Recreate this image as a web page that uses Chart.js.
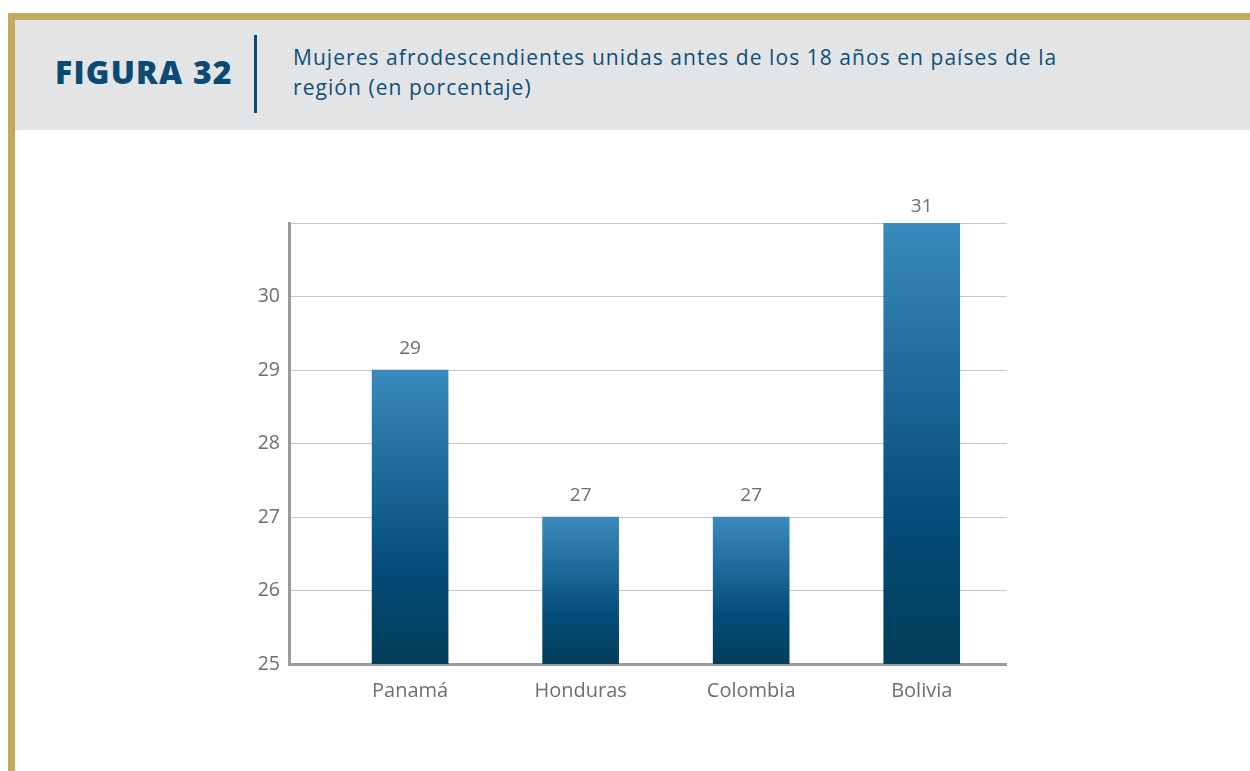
<!DOCTYPE html>
<html>
<head>
<meta charset="utf-8">
<script src="https://cdn.jsdelivr.net/npm/chart.js@4"></script>
<style>
    html, body { margin: 0; padding: 0; background: #fff; }
    body { width: 1250px; height: 771px; position: relative; overflow: hidden; font-family: "Open Sans", sans-serif; }
    .frame-top { position: absolute; left: 8px; top: 13px; width: 1242px; height: 7px; background: #c4aa5c; }
    .frame-left { position: absolute; left: 8px; top: 13px; width: 7px; height: 758px; background: #c4aa5c; }
    .header { position: absolute; left: 15px; top: 20px; width: 1235px; height: 110px; background: #e3e4e6; }
    .fig { position: absolute; left: 40px; top: 32px; font-size: 32px; font-weight: 800; color: #0b4a74; letter-spacing: 1.2px; line-height: 40px; white-space: nowrap; }
    .divider { position: absolute; left: 239px; top: 15px; width: 3px; height: 78px; background: #0b4a74; }
    .subtitle { position: absolute; left: 278px; top: 22px; font-size: 21px; line-height: 30px; color: #0d4f7a; letter-spacing: 1.05px; white-space: nowrap; }
    #wrap { position: absolute; left: 220px; top: 190px; width: 787px; height: 514px; }
</style>
</head>
<body>
<div class="frame-top"></div>
<div class="frame-left"></div>
<div class="header">
    <div class="fig">FIGURA 32</div>
    <div class="divider"></div>
    <div class="subtitle">Mujeres afrodescendientes unidas antes de los 18 años en países de la<br>región (en porcentaje)</div>
</div>
<div id="wrap"><canvas id="chart"></canvas></div>
<script>
const countries = ['Panamá', 'Honduras', 'Colombia', 'Bolivia'];
const values = [29, 27, 27, 31];
const yTicks = [25, 26, 27, 28, 29, 30];

const FONT = '"Open Sans", sans-serif';

// gradient per bar, from its top down to the axis
function barGradient(context) {
    const chart = context.chart;
    const area = chart.chartArea;
    if (!area || context.parsed === undefined) return '#2a6f9e';
    const top = chart.scales.y.getPixelForValue(context.parsed.y);
    const g = chart.ctx.createLinearGradient(0, top, 0, area.bottom);
    g.addColorStop(0, '#3a8abd');
    g.addColorStop(0.68, '#034c79');
    g.addColorStop(1, '#033d58');
    return g;
}

const valueLabels = {
    id: 'valueLabels',
    afterDatasetsDraw(chart) {
        const ctx = chart.ctx;
        const meta = chart.getDatasetMeta(0);
        ctx.save();
        ctx.font = '19px ' + FONT;
        ctx.fillStyle = '#6d6e71';
        ctx.textAlign = 'center';
        ctx.textBaseline = 'alphabetic';
        meta.data.forEach((bar, i) => {
            const gap = values[i] === Math.max(...values) ? 11 : 16;
            ctx.fillText(values[i], bar.x, bar.y - gap);
        });
        ctx.restore();
    }
};

new Chart(document.getElementById('chart'), {
    type: 'bar',
    data: {
        datasets: [{
            data: values.map((v, i) => ({ x: i, y: v })),
            backgroundColor: barGradient,
            borderWidth: 0,
            barThickness: 76
        }]
    },
    options: {
        responsive: true,
        maintainAspectRatio: false,
        animation: false,
        layout: { padding: { top: 33, right: 0, left: 0, bottom: 0 } },
        plugins: { legend: { display: false }, tooltip: { enabled: false } },
        scales: {
            x: {
                type: 'linear',
                offset: false,
                min: -0.71,
                max: 3.5,
                grid: { display: false },
                border: { display: true, color: '#9b9c9e', width: 3 },
                ticks: {
                    stepSize: 1,
                    includeBounds: false,
                    maxRotation: 0,
                    color: '#6d6e71',
                    font: { size: 20, family: FONT },
                    padding: 7,
                    callback: v => countries[v] !== undefined && Number.isInteger(v) ? countries[v] : ''
                },
                afterFit: s => { s.height = 40; }
            },
            y: {
                min: 25,
                max: 31,
                grid: { color: '#c8c8c8', lineWidth: 1, drawTicks: false },
                border: { display: true, color: '#9b9c9e', width: 3 },
                ticks: {
                    stepSize: 1,
                    color: '#6d6e71',
                    font: { size: 19.5, family: FONT },
                    padding: 9,
                    callback: v => yTicks.includes(v) ? String(v) : ''
                },
                afterFit: s => { s.width = 69; }
            }
        }
    },
    plugins: [valueLabels]
});
</script>
</body>
</html>
